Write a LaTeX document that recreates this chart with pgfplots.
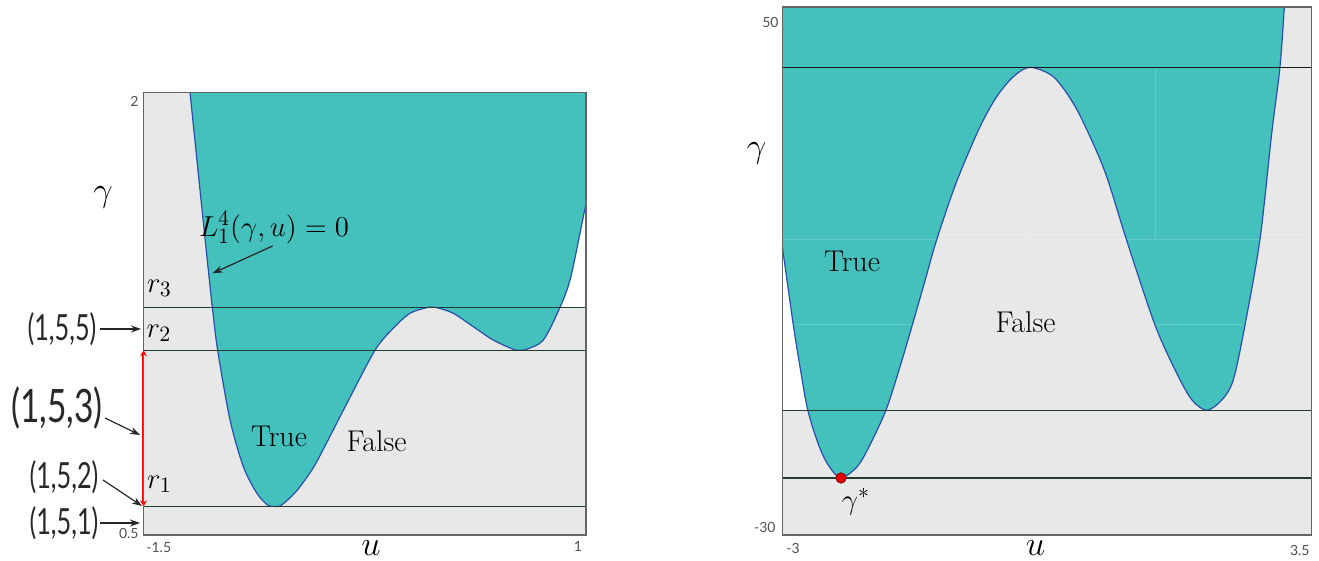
\documentclass[border=0pt]{standalone}
\usepackage{pgfplots}
\pgfplotsset{compat=1.18}
\usepackage{fontspec}
\usepackage{graphicx}
\usetikzlibrary{arrows.meta}
\newfontfamily\hand{Lato}
\definecolor{tealfill}{RGB}{68,192,189}
\definecolor{bggrey}{RGB}{232,232,232}
\definecolor{curveblue}{RGB}{40,80,170}
\definecolor{lvl}{RGB}{35,60,50}
\definecolor{framec}{RGB}{100,100,100}
\definecolor{ticktext}{RGB}{80,80,80}
\definecolor{handtext}{RGB}{40,40,40}
\pgfplotsset{
  panel/.style={anchor=south west, scale only axis, ticks=none, clip=false,
    axis on top, axis line style={framec, line width=0.8pt},
    axis background/.style={fill=bggrey}},
}
\begin{document}
\begin{tikzpicture}
\useasboundingbox (0,0) rectangle (659.5pt,280.5pt);
% ---------------- left panel ----------------
\begin{axis}[panel, at={(71.75pt,13pt)}, width=221.25pt, height=221.15pt,
  xmin=-1.5, xmax=1, ymin=0.5, ymax=2]
% white region right of the right branch, above r3
\addplot[fill=white, draw=none, smooth] coordinates {
 (0.853,1.272) (0.910,1.365) (0.966,1.523) (1.0,1.625)} -- (axis cs:1,1.272) -- cycle;
% True region (above the curve)
\addplot[fill=tealfill, draw=none, smooth] coordinates {
 (-1.237,2.0) (-1.171,1.613) (-1.120,1.320) (-1.111,1.272) (-1.081,1.1265)
 (-1.011,0.890) (-0.936,0.732) (-0.860,0.642) (-0.800,0.602) (-0.760,0.597)
 (-0.719,0.602) (-0.634,0.650) (-0.541,0.728) (-0.465,0.813) (-0.352,0.945)
 (-0.192,1.1265) (-0.089,1.201) (0.006,1.252) (0.100,1.271) (0.128,1.272)
 (0.157,1.271) (0.250,1.252) (0.363,1.2065) (0.476,1.161) (0.589,1.130)
 (0.627,1.1265) (0.665,1.130) (0.759,1.161) (0.853,1.272) (0.910,1.365)
 (0.966,1.523) (1.0,1.625)} -- (axis cs:1,2) -- cycle;
% curve L = 0
\addplot[curveblue, line width=0.6pt, smooth] coordinates {
 (-1.237,2.0) (-1.171,1.613) (-1.120,1.320) (-1.111,1.272) (-1.081,1.1265)
 (-1.011,0.890) (-0.936,0.732) (-0.860,0.642) (-0.800,0.602) (-0.760,0.597)
 (-0.719,0.602) (-0.634,0.650) (-0.541,0.728) (-0.465,0.813) (-0.352,0.945)
 (-0.192,1.1265) (-0.089,1.201) (0.006,1.252) (0.100,1.271) (0.128,1.272)
 (0.157,1.271) (0.250,1.252) (0.363,1.2065) (0.476,1.161) (0.589,1.130)
 (0.627,1.1265) (0.665,1.130) (0.759,1.161) (0.853,1.272) (0.910,1.365)
 (0.966,1.523) (1.0,1.625)};
% levels r1, r2, r3
\addplot[lvl, line width=0.75pt] coordinates {(-1.5,0.597) (1,0.597)};
\addplot[lvl, line width=0.75pt] coordinates {(-1.5,1.1265) (1,1.1265)};
\addplot[lvl, line width=0.75pt] coordinates {(-1.5,1.272) (1,1.272)};
% red interval
\addplot[red, line width=1pt, {Stealth[length=3pt,width=3.5pt]}-{Stealth[length=3pt,width=3.5pt]}]
  coordinates {(-1.5,0.597) (-1.5,1.1265)};
\end{axis}
% ---------------- right panel ----------------
\begin{axis}[panel, at={(391.25pt,13pt)}, width=264.5pt, height=264pt,
  xmin=-3, xmax=3.5, ymin=-30, ymax=50]
\addplot[fill=white, draw=none, smooth] coordinates {
 (-3,13.48) (-2.867,1.82) (-2.785,-4.5) (-2.690,-11.06)} -- (axis cs:-3,-11.06) -- cycle;
\addplot[fill=tealfill, draw=none, smooth] coordinates {
 (-3.0,13.48) (-2.867,1.82) (-2.785,-4.5) (-2.690,-11.06) (-2.548,-16.62)
 (-2.425,-19.65) (-2.281,-21.36) (-2.082,-19.65) (-1.937,-16.62) (-1.728,-11.06)
 (-1.556,-4.5) (-1.405,1.82) (-1.261,8.0) (-1.104,14.8) (-0.859,23.6)
 (-0.573,31.86) (-0.368,36.41) (-0.164,39.44) (0.041,40.86) (0.328,39.44)
 (0.573,35.41) (0.779,30.35) (0.984,24.29) (1.230,14.6) (1.577,1.82)
 (1.844,-5.5) (2.032,-9.55) (2.213,-11.1) (2.398,-9.55) (2.539,-6.5)
 (2.683,1.82) (2.867,14.8) (3.011,30.86) (3.113,40.95) (3.166,50)} -- (axis cs:-3,50) -- cycle;
\addplot[white, opacity=0.18, line width=0.5pt] coordinates {(-3,14.8) (3.5,14.8)};
\addplot[white, opacity=0.18, line width=0.5pt] coordinates {(-2.867,1.82) (-1.405,1.82)};
\addplot[white, opacity=0.18, line width=0.5pt] coordinates {(1.577,1.82) (2.683,1.82)};
\addplot[white, opacity=0.18, line width=0.5pt] coordinates {(0.041,14.8) (0.041,40.86)};
\addplot[white, opacity=0.18, line width=0.5pt] coordinates {(1.577,14.8) (1.577,40.86)};
\addplot[curveblue, line width=0.6pt, smooth] coordinates {
 (-3.0,13.48) (-2.867,1.82) (-2.785,-4.5) (-2.690,-11.06) (-2.548,-16.62)
 (-2.425,-19.65) (-2.281,-21.36) (-2.082,-19.65) (-1.937,-16.62) (-1.728,-11.06)
 (-1.556,-4.5) (-1.405,1.82) (-1.261,8.0) (-1.104,14.8) (-0.859,23.6)
 (-0.573,31.86) (-0.368,36.41) (-0.164,39.44) (0.041,40.86) (0.328,39.44)
 (0.573,35.41) (0.779,30.35) (0.984,24.29) (1.230,14.6) (1.577,1.82)
 (1.844,-5.5) (2.032,-9.55) (2.213,-11.1) (2.398,-9.55) (2.539,-6.5)
 (2.683,1.82) (2.867,14.8) (3.011,30.86) (3.113,40.95) (3.166,50)};
\addplot[black!90, line width=0.75pt] coordinates {(-3,40.86) (3.5,40.86)};
\addplot[lvl, line width=0.75pt] coordinates {(-3,-11.1) (3.5,-11.1)};
\addplot[lvl, line width=0.75pt] coordinates {(-3,-21.36) (3.5,-21.36)};
\addplot[only marks, mark=*, mark size=2.6pt,
  mark options={fill=red!90!black, draw=red!50!black, line width=0.4pt}]
  coordinates {(-2.281,-21.36)};
\end{axis}
% ---------------- texts ----------------
\begin{scope}[every node/.style={inner sep=0pt}]
% tick labels
\node[anchor=east, text=ticktext] at (69.5pt,230pt) {\hand\fontsize{7}{8}\selectfont 2};
\node[anchor=east, text=ticktext] at (69.5pt,14pt) {\hand\fontsize{7}{8}\selectfont 0.5};
\node[anchor=west, text=ticktext] at (73pt,6.5pt) {\hand\fontsize{7}{8}\selectfont -1.5};
\node[text=ticktext] at (289pt,7.5pt) {\hand\fontsize{7}{8}\selectfont 1};
\node[anchor=east, text=ticktext] at (389.5pt,269.5pt) {\hand\fontsize{7}{8}\selectfont 50};
\node[anchor=east, text=ticktext] at (388pt,16.7pt) {\hand\fontsize{7}{8}\selectfont -30};
\node[anchor=west, text=ticktext] at (393pt,6.5pt) {\hand\fontsize{7}{8}\selectfont -3};
\node[anchor=east, text=ticktext] at (655pt,5.5pt) {\hand\fontsize{7}{8}\selectfont 3.5};
% axis labels
\node at (51.5pt,182pt) {\fontsize{16}{19}\selectfont $\gamma$};
\node at (185.5pt,6.5pt) {\fontsize{16}{19}\selectfont $u$};
\node at (378.25pt,204pt) {\fontsize{16}{19}\selectfont $\gamma$};
\node at (517.75pt,6.5pt) {\fontsize{16}{19}\selectfont $u$};
% level labels
\node at (79.75pt,136.5pt) {\fontsize{15}{18}\selectfont $r_3$};
\node at (79.5pt,114pt) {\fontsize{15}{18}\selectfont $r_2$};
\node at (79.75pt,38.5pt) {\fontsize{15}{18}\selectfont $r_1$};
% region labels
\node at (139.5pt,62.5pt) {\fontsize{15}{18}\selectfont True};
\node at (188.25pt,60pt) {\fontsize{15}{18}\selectfont False};
\node at (426pt,150pt) {\fontsize{15}{18}\selectfont True};
\node at (512.8pt,119.25pt) {\fontsize{15}{18}\selectfont False};
\node at (428pt,29.75pt) {\fontsize{15}{18}\selectfont $\gamma^*$};
% curve label
\node at (137pt,166.75pt) {\fontsize{15}{18}\selectfont $L_1^4(\gamma,u)=0$};
\draw[black!85, line width=0.6pt, -{Stealth[length=5pt,width=3.5pt]}] (136.3pt,157.5pt) -- (106.3pt,143.85pt);
% handwritten labels
\node[text=handtext] at (31pt,116pt) {\scalebox{0.7}[1]{\hand\fontsize{18}{18}\selectfont (1,5,5)}};
\node[text=handtext] at (28.5pt,76.5pt) {\scalebox{0.73}[1]{\hand\fontsize{23}{23}\selectfont (1,5,3)}};
\node[text=handtext] at (32pt,42pt) {\scalebox{0.7}[1]{\hand\fontsize{18}{18}\selectfont (1,5,2)}};
\node[text=handtext] at (32pt,19pt) {\scalebox{0.7}[1]{\hand\fontsize{18}{18}\selectfont (1,5,1)}};
\draw[black!85, line width=0.6pt, -{Stealth[length=5pt,width=3.5pt]}] (50pt,116pt) -- (70.5pt,116pt);
\draw[black!85, line width=0.6pt, -{Stealth[length=5pt,width=3.5pt]}] (52.5pt,71.5pt) -- (70pt,63pt);
\draw[black!85, line width=0.6pt, -{Stealth[length=5pt,width=3.5pt]}] (51.5pt,40.5pt) -- (71pt,27.5pt);
\draw[black!85, line width=0.6pt, -{Stealth[length=5pt,width=3.5pt]}] (50pt,19pt) -- (70pt,19pt);
\end{scope}
\end{tikzpicture}
\end{document}
